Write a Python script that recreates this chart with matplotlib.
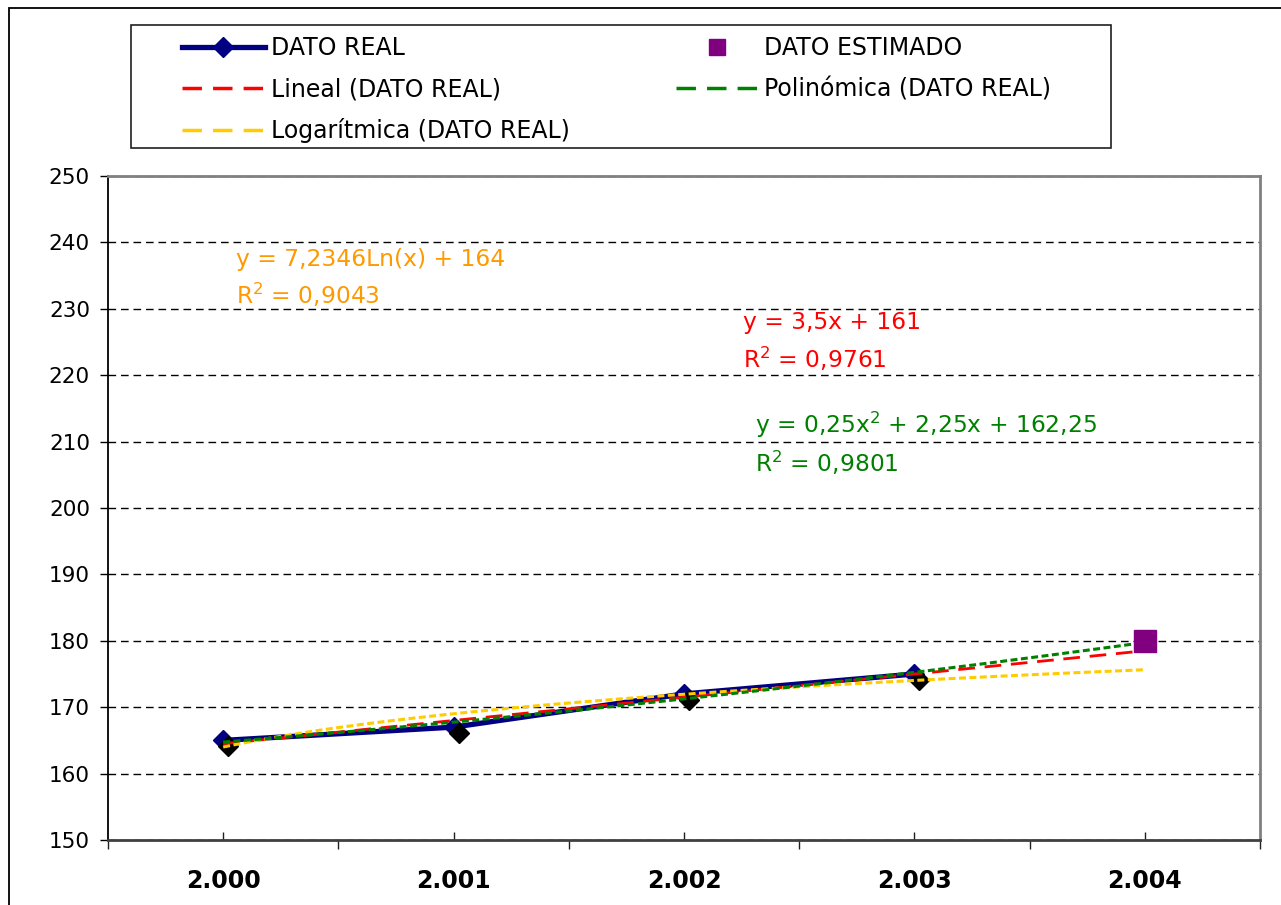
import numpy as np
import matplotlib
matplotlib.use("Agg")
import matplotlib.pyplot as plt
from matplotlib.lines import Line2D
from matplotlib.patches import Rectangle
from matplotlib.transforms import offset_copy

# ---- data ----
years = ["2.000", "2.001", "2.002", "2.003", "2.004"]
real_values = [165, 167, 172, 175]
estimated_values = [180]
y_ticks = list(range(150, 251, 10))

log_label = ["y = 7,2346Ln(x) + 164", "R$^2$ = 0,9043"]
lin_label = ["y = 3,5x + 161", "R$^2$ = 0,9761"]
poly_label = ["y = 0,25x$^2$ + 2,25x + 162,25", "R$^2$ = 0,9801"]

plt.rcParams["font.family"] = ["DejaVu Sans"]
plt.rcParams["mathtext.default"] = "regular"
plt.rcParams["lines.scale_dashes"] = False

NAVY = "#000080"
RED = "#FF0000"
GREEN = "#008000"
YELLOW = "#FFCC00"
ORANGE = "#FF9900"
PURPLE = "#800080"

fig = plt.figure(figsize=(12.81, 9.05), dpi=100)
W, H = 1281, 905
ax = fig.add_axes([108 / W, (H - 840) / H, 1152 / W, 664 / H])

xi = np.arange(len(years))
x_real = xi[: len(real_values)]
x_est = xi[len(real_values):]

# trend lines fitted on period numbers 1..n
period = np.arange(1, len(real_values) + 1)
lin_coef = np.polyfit(period, real_values, 1)
poly_coef = np.polyfit(period, real_values, 2)
log_coef = np.polyfit(np.log(period), real_values, 1)
t = np.linspace(1, len(years), 300)
xt = t - 1

# real data line + markers
ax.plot(x_real, real_values, color=NAVY, lw=3.8, marker="D", ms=10.5,
        mfc=NAVY, mec=NAVY, zorder=3, solid_capstyle="round")
shadow = offset_copy(ax.transData, fig=fig, x=5, y=-6, units="dots")
ax.plot(x_real, real_values, ls="none", marker="D", ms=10, mfc="black",
        mec="black", transform=shadow, zorder=3.5)

# trend lines
ax.plot(xt, np.polyval(lin_coef, t), color=RED, lw=2, dashes=(12, 7), zorder=4)
ax.plot(xt, np.polyval(log_coef, np.log(t)), color=YELLOW, lw=2.2, dashes=(5, 2.5), zorder=4.2)
ax.plot(xt, np.polyval(poly_coef, t), color=GREEN, lw=2.2, dashes=(5, 2.5), zorder=4.4)

# estimated
ax.plot(x_est, estimated_values, ls="none", marker="s", ms=15.5, mfc=PURPLE,
        mec=PURPLE, zorder=5)

# axes styling
ax.set_xlim(-0.5, len(years) - 0.5)
ax.set_ylim(y_ticks[0], y_ticks[-1])
ax.set_yticks(y_ticks)
ax.set_yticklabels([str(v) for v in y_ticks], fontsize=15.5)
ax.set_xticks(xi)
ax.set_xticklabels(years, fontsize=17, fontweight="bold")
ax.set_xticks(np.arange(-0.5, len(years)), minor=True)
ax.tick_params(axis="x", which="major", direction="in", length=5.5, width=1,
               color="#202020", pad=21)
ax.tick_params(axis="x", which="minor", direction="out", length=6.5, width=1,
               color="#202020")
ax.tick_params(axis="y", which="major", direction="out", length=6, width=1,
               color="black", pad=7)
ax.yaxis.grid(True, color="black", lw=1, dashes=(5.5, 3.5))
ax.set_axisbelow(True)

ax.spines["left"].set_color("black")
ax.spines["left"].set_linewidth(1.3)
ax.spines["bottom"].set_color("#404040")
ax.spines["bottom"].set_linewidth(2)
for s in ("top", "right"):
    ax.spines[s].set_color("#808080")
    ax.spines[s].set_linewidth(2)

# equations
fs_eq = 16.8
def axfx(px):
    return (px - 108) / 1152
def axfy(py):
    return (840 - py) / 664

ax.text(axfx(236), axfy(266), log_label[0], color=ORANGE, fontsize=fs_eq,
        transform=ax.transAxes, va="baseline", ha="left")
ax.text(axfx(236), axfy(304), log_label[1], color=ORANGE, fontsize=fs_eq,
        transform=ax.transAxes, va="baseline", ha="left")
ax.text(axfx(743), axfy(329), lin_label[0], color=RED, fontsize=fs_eq,
        transform=ax.transAxes, va="baseline", ha="left")
ax.text(axfx(743), axfy(368), lin_label[1], color=RED, fontsize=fs_eq,
        transform=ax.transAxes, va="baseline", ha="left")
ax.text(axfx(755), axfy(433), poly_label[0], color=GREEN, fontsize=fs_eq,
        transform=ax.transAxes, va="baseline", ha="left")
ax.text(axfx(755), axfy(472), poly_label[1], color=GREEN, fontsize=fs_eq,
        transform=ax.transAxes, va="baseline", ha="left")

# legend
handles = [
    Line2D([], [], color=NAVY, lw=3.8, marker="D", ms=10.5, mfc=NAVY, mec=NAVY),
    Line2D([], [], color=RED, lw=2.5, dashes=(14, 8)),
    Line2D([], [], color=YELLOW, lw=2.5, dashes=(14, 8)),
    Line2D([], [], ls="none", marker="s", ms=12, mfc=PURPLE, mec=PURPLE),
    Line2D([], [], color=GREEN, lw=2.5, dashes=(14, 8)),
]
labels = ["DATO REAL", "Lineal (DATO REAL)", "Logarítmica (DATO REAL)",
          "DATO ESTIMADO", "Polinómica (DATO REAL)"]
fs_leg = 17
fig.legend(handles, labels, loc="upper left", ncol=2, frameon=False,
           bbox_to_anchor=(182 / W, 1 - 36 / H), borderpad=0, borderaxespad=0,
           fontsize=fs_leg, handlelength=3.5, handletextpad=0.25,
           labelspacing=0.72, columnspacing=4.5, numpoints=1)

fig.patches.append(Rectangle((131 / W, 1 - 148 / H), 980 / W, 123 / H,
                             transform=fig.transFigure, fill=False,
                             edgecolor="#202020", lw=1.2))
fig.patches.append(Rectangle((9 / W, -0.05), 1.2, 1.05 - 8 / H,
                             transform=fig.transFigure, fill=False,
                             edgecolor="black", lw=1.3))

fig.savefig("out.png", dpi=100)
